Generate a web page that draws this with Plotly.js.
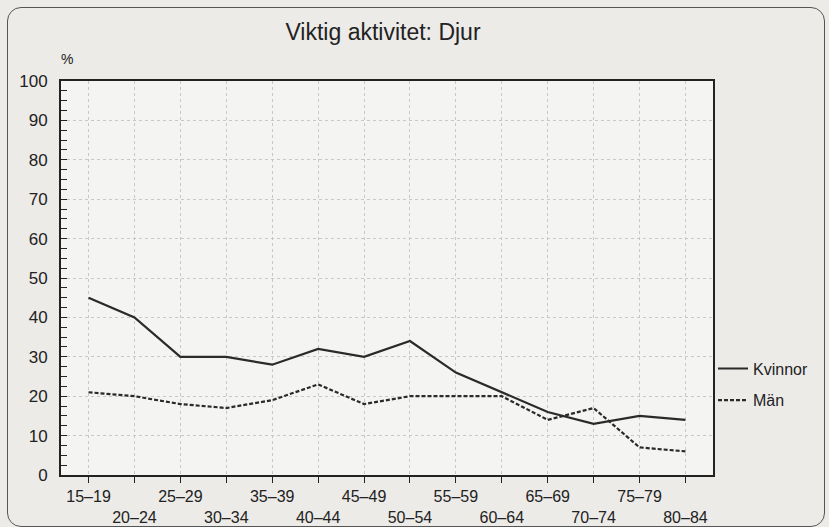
<!DOCTYPE html>
<html>
<head>
<meta charset="utf-8">
<script src="https://cdn.plot.ly/plotly-3.0.1.min.js"></script>
<style>
html,body{margin:0;padding:0;background:#ecebe8;}
#wrap{position:relative;width:829px;height:527px;}
#frame{position:absolute;left:7px;top:7px;width:818px;height:520px;border:1px solid #555;border-radius:14px;box-sizing:border-box;pointer-events:none;}
#chart{position:absolute;left:0;top:0;width:829px;height:527px;}
</style>
</head>
<body>
<div id="wrap"><div id="chart"></div><div id="frame"></div></div>
<script>
const ageGroups = ["15–19","20–24","25–29","30–34","35–39","40–44","45–49","50–54","55–59","60–64","65–69","70–74","75–79","80–84"];
const kvinnor = [45,40,30,30,28,32,30,34,26,21,16,13,15,14];
const man     = [21,20,18,17,19,23,18,20,20,20,14,17,7,6];
const yTicks = [0,10,20,30,40,50,60,70,80,90,100];

const idx = ageGroups.map((_, i) => i);
const tickText = ageGroups.map((g, i) => i % 2 === 0 ? g : "<br>" + g);

const fontFam = "Liberation Sans, Arial, sans-serif";

const traces = [
  {x: idx, y: kvinnor, name: "Kvinnor", type: "scatter", mode: "lines",
   line: {color: "#2a2a2a", width: 2.2}, legend: "legend"},
  {x: idx, y: man, name: "Män", type: "scatter", mode: "lines",
   line: {color: "#2a2a2a", width: 2.2, dash: "4px,2px"}, legend: "legend2"}
];

const layout = {
  width: 829, height: 527,
  paper_bgcolor: "#ecebe8",
  plot_bgcolor: "#f4f4f2",
  margin: {l: 61, r: 116, t: 81, b: 52},
  title: {text: "Viktig aktivitet: Djur", x: 0.462, xanchor: "center", y: 0.94, yanchor: "middle",
          font: {family: fontFam, size: 23, color: "#222"}},
  showlegend: true,
  xaxis: {
    range: [-0.6, 13.6], tickmode: "array", tickvals: idx, ticktext: tickText,
    showline: true, linecolor: "#222", linewidth: 2, mirror: true,
    ticks: "outside", ticklen: 6, tickcolor: "#222", tickwidth: 1,
    showgrid: true, gridcolor: "#c8c8c8", griddash: "dot", gridwidth: 1,
    zeroline: false, tickangle: 0,
    tickfont: {family: fontFam, size: 16, color: "#222"}
  },
  yaxis: {
    range: [0, 100], tickmode: "array", tickvals: yTicks,
    showline: true, linecolor: "#222", linewidth: 2, mirror: true,
    ticks: "inside", ticklen: 6, tickcolor: "#222", tickwidth: 1,
    minor: {dtick: 2.5, ticks: "inside", ticklen: 6, tickcolor: "#222", showgrid: false},
    showgrid: true, gridcolor: "#c8c8c8", griddash: "dot", gridwidth: 1,
    zeroline: false, ticklabelstandoff: 8,
    tickfont: {family: fontFam, size: 17, color: "#222"}
  },
  legend: {x: 1.0, xanchor: "left", y: 0.27, yanchor: "middle", bgcolor: "rgba(0,0,0,0)",
           font: {family: fontFam, size: 16, color: "#222"}},
  legend2: {x: 1.0, xanchor: "left", y: 0.19, yanchor: "middle", bgcolor: "rgba(0,0,0,0)",
           font: {family: fontFam, size: 16, color: "#222"}},
  annotations: [
    {text: "%", xref: "paper", yref: "paper", x: -0.003, y: 1.03, xanchor: "left", yanchor: "bottom",
     showarrow: false, font: {family: fontFam, size: 14, color: "#222"}}
  ]
};

Plotly.newPlot("chart", traces, layout, {displayModeBar: false, staticPlot: true});
</script>
</body>
</html>
